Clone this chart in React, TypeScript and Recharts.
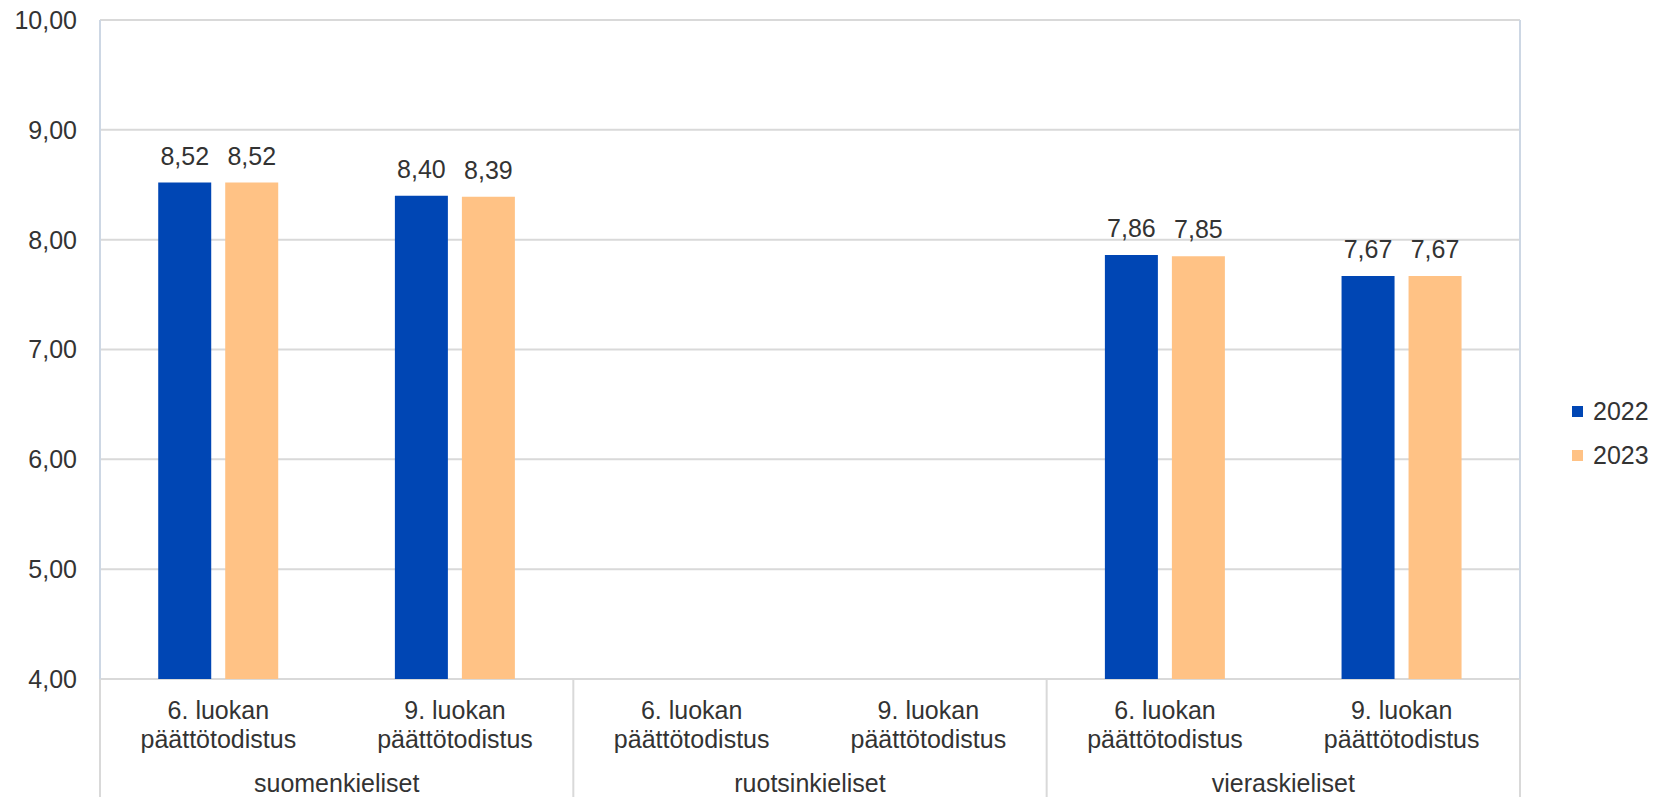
import {
  BarChart,
  Bar,
  XAxis,
  YAxis,
  CartesianGrid,
  Legend,
  LabelList,
} from "recharts";

const categories = [
  "6. luokan päättötodistus",
  "9. luokan päättötodistus",
  "6. luokan päättötodistus",
  "9. luokan päättötodistus",
  "6. luokan päättötodistus",
  "9. luokan päättötodistus",
];
const groups = [
  "suomenkieliset",
  "suomenkieliset",
  "ruotsinkieliset",
  "ruotsinkieliset",
  "vieraskieliset",
  "vieraskieliset",
];
const values2022 = [8.52, 8.4, null, null, 7.86, 7.67];
const values2023 = [8.52, 8.39, null, null, 7.85, 7.67];
const yTicks = [4, 5, 6, 7, 8, 9, 10];

const data = categories.map((c, i) => ({
  name: c,
  group: groups[i],
  y2022: values2022[i],
  y2023: values2023[i],
}));

const BLUE = "#0046b4";
const ORANGE = "#ffc285";
const TEXT = "#333333";
const FONT = "Liberation Sans, Arial, sans-serif";
const FS = 25;

const fmt = (v: any) =>
  v === null || v === undefined ? "" : Number(v).toFixed(2).replace(".", ",");

// two-line category label + group label and separators below the axis
function CategoryTick(props: any) {
  const { x, y, payload, index } = props;
  const half = payload.offset ?? 0;
  const words = String(payload.value).split(" ");
  const l1 = words.slice(0, 2).join(" ");
  const l2 = words.slice(2).join(" ");
  const txt = { textAnchor: "middle" as const, dominantBaseline: "central" as const, fill: TEXT, fontSize: FS, fontFamily: FONT };
  return (
    <g>
      <text x={x} y={y + 31} {...txt}>{l1}</text>
      <text x={x} y={y + 60} {...txt}>{l2}</text>
      {index === 0 && <line x1={x - half} x2={x - half} y1={y} y2={y + 130} stroke="#d9d9d9" strokeWidth={2} />}
      {index % 2 === 1 && (
        <>
          <line x1={x + half} x2={x + half} y1={y} y2={y + 130} stroke="#d9d9d9" strokeWidth={2} />
          <text x={x - half} y={y + 104} {...txt}>{groups[index]}</text>
        </>
      )}
    </g>
  );
}

function LegendContent() {
  const items = [
    { label: "2022", color: BLUE },
    { label: "2023", color: ORANGE },
  ];
  return (
    <div style={{ fontFamily: FONT, fontSize: FS, color: TEXT }}>
      {items.map((it) => (
        <div key={it.label} style={{ display: "flex", alignItems: "center", height: 44 }}>
          <span style={{ width: 11, height: 11, background: it.color, marginRight: 10 }} />
          <span>{it.label}</span>
        </div>
      ))}
    </div>
  );
}

export default function App() {
  return (
    <div style={{ position: "absolute", left: 0, top: 0, background: "#fff" }}>
      <BarChart
        width={1655}
        height={797}
        data={data}
        margin={{ top: 20, right: 135, bottom: 0, left: 0 }}
        barGap={14}
        barCategoryGap="24.6%"
      >
        <CartesianGrid stroke="#d9d9d9" strokeWidth={2} vertical={false} />
        <CartesianGrid
          stroke="#cdd7e4"
          strokeWidth={2}
          horizontal={false}
          verticalCoordinatesGenerator={({ offset }: any) => [offset.left, offset.left + offset.width]}
        />
        <XAxis
          dataKey="name"
          interval={0}
          height={118}
          tickLine={false}
          axisLine={false}
          tickSize={0}
          tickMargin={0}
          tick={<CategoryTick />}
        />
        <YAxis
          width={100}
          domain={[4, 10]}
          ticks={yTicks}
          tickFormatter={fmt}
          tickLine={false}
          axisLine={false}
          tickSize={0}
          tickMargin={23}
          tick={{ fill: TEXT, fontSize: FS, fontFamily: FONT }}
          allowDataOverflow
        />
        <Legend
          align="center"
          verticalAlign="middle"
          content={<LegendContent />}
          wrapperStyle={{ left: 1572, top: 389, width: 83 }}
        />
        <Bar dataKey="y2022" name="2022" fill={BLUE} isAnimationActive={false}>
          <LabelList dataKey="y2022" position="top" offset={18} formatter={fmt} fill={TEXT} fontSize={FS} fontFamily={FONT} />
        </Bar>
        <Bar dataKey="y2023" name="2023" fill={ORANGE} isAnimationActive={false}>
          <LabelList dataKey="y2023" position="top" offset={18} formatter={fmt} fill={TEXT} fontSize={FS} fontFamily={FONT} />
        </Bar>
      </BarChart>
    </div>
  );
}
